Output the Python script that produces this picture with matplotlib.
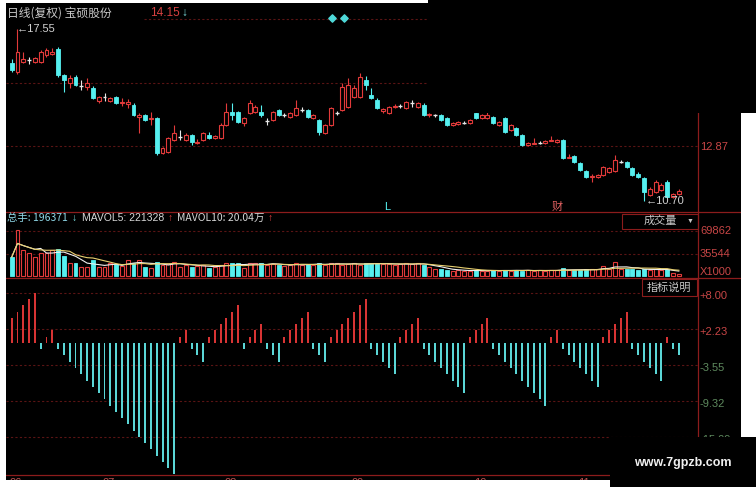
import numpy as np
import pandas as pd
import matplotlib
matplotlib.use("Agg")
import matplotlib.pyplot as plt
from matplotlib.patches import Rectangle
from matplotlib.lines import Line2D

plt.rcParams['font.family'] = ['Noto Sans CJK SC', 'DejaVu Sans']

# ---------------------------------------------------------------------------
# data (daily bars, Jun - Nov)
# ---------------------------------------------------------------------------
opens = [16.20, 15.83, 16.22, 16.30, 16.24, 16.24, 16.51, 16.55, 16.75, 15.70,
         15.40, 15.64, 15.28, 15.24, 15.20, 14.68, 14.84, 14.70, 14.84, 14.62,
         14.58, 14.52, 14.04, 14.12, 13.98, 14.00, 12.61, 12.65, 13.13, 13.25,
         13.13, 13.33, 13.01, 13.13, 13.33, 13.21, 13.21, 13.73, 14.24, 14.24,
         13.81, 14.20, 14.24, 14.24, 13.90, 13.92, 14.32, 14.12, 14.04, 14.12,
         14.32, 14.32, 14.00, 13.92, 13.41, 13.73, 14.20, 14.32, 14.44, 14.84,
         14.84, 15.52, 14.92, 14.72, 14.28, 14.20, 14.44, 14.48, 14.40, 14.60,
         14.44, 14.52, 14.12, 14.12, 14.12, 14.00, 13.73, 13.76, 13.81, 13.81,
         14.20, 14.00, 14.02, 14.04, 13.73, 14.00, 13.53, 13.61, 13.33, 12.93,
         12.98, 13.01, 13.01, 13.10, 13.05, 13.13, 12.43, 12.49, 12.21, 11.89,
         11.66, 11.66, 11.73, 11.87, 11.89, 12.27, 12.25, 12.01, 11.78, 11.61,
         10.94, 11.06, 11.14, 11.45, 10.86, 10.98]
highs = [16.35, 17.55, 16.62, 16.45, 16.45, 16.70, 16.78, 16.80, 16.85, 15.75,
         15.72, 15.70, 15.52, 15.60, 15.28, 14.88, 15.00, 14.84, 14.88, 14.80,
         14.76, 14.60, 14.20, 14.16, 14.24, 14.04, 12.85, 13.25, 13.73, 13.53,
         13.40, 13.38, 13.15, 13.45, 13.45, 13.33, 13.80, 14.60, 14.60, 14.30,
         14.05, 14.72, 14.52, 14.52, 14.00, 14.30, 14.36, 14.20, 14.24, 14.72,
         14.44, 14.36, 14.16, 13.96, 13.76, 14.44, 14.30, 15.40, 15.60, 15.32,
         15.80, 15.68, 15.20, 14.80, 14.42, 14.48, 14.56, 14.56, 14.70, 14.72,
         14.64, 14.60, 14.20, 14.18, 14.16, 14.04, 13.85, 13.90, 13.88, 13.96,
         14.24, 14.16, 14.24, 14.08, 13.88, 14.04, 13.76, 13.65, 13.36, 13.05,
         13.21, 13.08, 13.12, 13.29, 13.18, 13.16, 12.55, 12.53, 12.25, 11.93,
         11.78, 11.78, 12.10, 12.06, 12.53, 12.33, 12.29, 12.05, 11.85, 11.66,
         11.25, 11.53, 11.40, 11.53, 11.02, 11.18]
lows = [15.84, 15.75, 16.18, 16.15, 16.20, 16.20, 16.45, 16.50, 15.65, 15.04,
        15.20, 15.28, 15.12, 15.12, 14.76, 14.62, 14.68, 14.64, 14.56, 14.50,
        14.40, 14.08, 13.41, 13.90, 13.73, 12.53, 12.55, 12.61, 13.10, 13.13,
        13.10, 12.93, 12.95, 13.10, 13.18, 13.18, 13.18, 13.70, 13.92, 13.80,
        13.70, 14.15, 14.20, 14.04, 13.73, 13.88, 14.08, 14.04, 14.00, 14.08,
        14.24, 14.00, 13.96, 13.33, 13.38, 13.70, 14.12, 14.28, 14.40, 14.80,
        14.80, 15.12, 14.76, 14.36, 14.20, 14.16, 14.40, 14.40, 14.36, 14.44,
        14.40, 14.08, 14.04, 14.06, 13.88, 13.70, 13.70, 13.72, 13.76, 13.78,
        13.96, 13.96, 13.98, 13.78, 13.70, 13.41, 13.50, 13.30, 12.90, 12.90,
        12.95, 12.96, 12.98, 13.08, 13.02, 12.37, 12.40, 12.21, 11.89, 11.62,
        11.45, 11.62, 11.70, 11.82, 11.85, 12.20, 12.01, 11.70, 11.62, 10.70,
        10.90, 11.02, 11.10, 10.82, 10.82, 10.94]
closes = [15.92, 16.65, 16.35, 16.30, 16.38, 16.65, 16.71, 16.62, 15.72, 15.52,
          15.60, 15.32, 15.28, 15.40, 14.80, 14.84, 14.84, 14.80, 14.60, 14.66,
          14.64, 14.12, 14.12, 13.94, 14.02, 12.61, 12.81, 13.21, 13.41, 13.25,
          13.33, 13.05, 13.05, 13.41, 13.21, 13.28, 13.73, 14.24, 14.12, 13.85,
          14.00, 14.60, 14.44, 14.12, 13.90, 14.24, 14.12, 14.12, 14.20, 14.40,
          14.32, 14.04, 14.12, 13.45, 13.73, 14.40, 14.20, 15.24, 15.32, 15.20,
          15.64, 15.32, 14.80, 14.40, 14.36, 14.44, 14.50, 14.48, 14.64, 14.60,
          14.60, 14.12, 14.16, 14.12, 13.92, 13.73, 13.81, 13.85, 13.81, 13.92,
          14.00, 14.12, 14.12, 13.81, 13.85, 13.45, 13.73, 13.33, 12.93, 13.01,
          13.02, 13.01, 13.08, 13.13, 13.13, 12.41, 12.47, 12.25, 11.93, 11.66,
          11.68, 11.73, 12.05, 12.01, 12.33, 12.27, 12.05, 11.73, 11.66, 11.06,
          11.18, 11.45, 11.33, 10.86, 10.98, 11.10]
volumes = [30000, 72500, 41300, 36200, 30900, 36700, 36700, 41300, 42400, 32000,
           20600, 20600, 15300, 15300, 25700, 15300, 14400, 20600, 19500, 16400,
           25700, 21500, 25700, 15300, 13700, 23100, 17900, 19500, 23100, 15300,
           17900, 14400, 16400, 17900, 12800, 14400, 17900, 20600, 20600, 20600,
           12800, 20600, 20600, 20600, 17900, 19500, 17900, 16400, 17900, 20600,
           17900, 19500, 17900, 20600, 17900, 20600, 20600, 17900, 19500, 20600,
           17900, 20600, 20600, 20600, 19500, 18700, 17900, 19500, 20600, 18700,
           20600, 18000, 14000, 12000, 11000, 10500, 9000, 9500, 8500, 9000,
           10000, 9000, 8500, 9500, 9000, 10500, 9000, 9500, 9000, 10000,
           8500, 9500, 9000, 9500, 10000, 13000, 9500, 10000, 10000, 11000,
           12000, 11000, 17000, 12000, 22000, 12000, 11500, 11000, 10500, 12000,
           10000, 11000, 10000, 11500, 5000, 4500]
# custom indicator histogram (up/down day counter)
counter = [4, 5, 6, 7, 8, -1, 1, 2,
           -1, -2, -3, -4, -5, -6, -7, -8, -9, -10, -11, -12, -13, -14, -15,
           -16, -17, -18, -19, -20, -21,
           1, 2, -1, -2, -3, 1, 2, 3, 4, 5, 6, -1, 1, 2, 3, -1, -2, -3,
           1, 2, 3, 4, 5, -1, -2, -3, 1, 2, 3, 4, 5, 6, 7,
           -1, -2, -3, -4, -5, 1, 2, 3, 4, -1, -2, -3, -4, -5, -6, -7, -8,
           1, 2, 3, 4, -1, -2, -3, -4, -5, -6, -7, -8, -9, -10, 1, 2,
           -1, -2, -3, -4, -5, -6, -7, 1, 2, 3, 4, 5,
           -1, -2, -3, -4, -5, -6, 1, -1, -2]
month_labels = ['06', '07', '08', '09', '10', '11']
month_start = [0, 16, 37, 59, 80, 98]
price_ticks = [12.87]
vol_ticks = [69862, 35544]
ind_ticks = [8.00, 2.23, -3.55, -9.32, -15.09]

assert len(opens) == len(highs) == len(lows) == len(closes) == len(volumes) == len(counter) == 116

# ---------------------------------------------------------------------------
RED = '#e23a3a'
CYAN = '#56f0f0'
FRAME = '#8c1c1c'
GRID = '#5a1414'
LABEL = '#c84646'
GREENLBL = '#5e8a5e'
W, H = 756, 487

fig = plt.figure(figsize=(W / 100, H / 100), dpi=100, facecolor='black')


def fx(x):
    return x / W


def fy(y):
    return 1 - y / H


def make_panel(top, bottom):
    ax = fig.add_axes([fx(6), fy(bottom), (698 - 6) / W, (bottom - top) / H])
    ax.set_facecolor('black')
    ax.set_axis_off()
    ax.set_xlim(-0.98, 118.3)
    return ax


n = len(closes)
x = np.arange(n)
o = np.array(opens); h = np.array(highs); l = np.array(lows); c = np.array(closes)
bw = 0.68

# --- price panel ---
axp = make_panel(3, 212)
axp.set_ylim(10.259, 18.586)
for gv, xm in [(17.93, 0.2), (15.40, 0.0), (12.87, 0.0)]:
    axp.axhline(gv, xmin=xm, color=GRID, lw=0.8, ls=(0, (2, 2)))
for i in range(n):
    if c[i] > o[i]:
        axp.add_patch(Rectangle((i - bw / 2, o[i]), bw, c[i] - o[i], fc='black', ec=RED, lw=0.8, zorder=3))
        axp.vlines(i, c[i], h[i], color=RED, lw=0.8, zorder=3)
        axp.vlines(i, l[i], o[i], color=RED, lw=0.8, zorder=3)
    elif c[i] < o[i]:
        axp.add_patch(Rectangle((i - bw / 2, c[i]), bw, o[i] - c[i], fc=CYAN, ec=CYAN, lw=0.6, zorder=3))
        axp.vlines(i, l[i], h[i], color=CYAN, lw=0.8, zorder=3)
    else:
        axp.hlines(o[i], i - bw / 2, i + bw / 2, color='#e8e8e8', lw=1.0, zorder=3)
        axp.vlines(i, l[i], h[i], color='#e8e8e8', lw=0.8, zorder=3)

num_font = ['Liberation Sans', 'DejaVu Sans']
hi_i = int(np.argmax(h)); lo_i = int(np.argmin(l))
axp.text(hi_i - 0.1, h[hi_i], '←17.55', color='#d0d0d0', fontsize=8, va='center', ha='left', family=num_font)
axp.text(lo_i + 0.3, l[lo_i], '←10.70', color='#d0d0d0', fontsize=8, va='center', ha='left', family=num_font)
axp.scatter([55.2, 57.3], [18.0, 18.0], marker='D', s=14, color='#4fd8d8', zorder=4)
axp.text(64.7, 10.45, 'L', color=CYAN, fontsize=8, ha='center', va='center', family=num_font)
axp.text(94, 10.45, '财', color='#e06060', fontsize=8, ha='center', va='center')

fig.text(fx(7), fy(13), '日线(复权) 宝硕股份', color='#c8c8c8', fontsize=8.5, va='center')
fig.text(fx(150), fy(13), '14.15', color='#d84040', fontsize=8.5, va='center', family=num_font)
fig.text(fx(181), fy(13), '↓', color='#7adede', fontsize=8.5, va='center', family=num_font)

# --- volume panel ---
axv = make_panel(212, 278)
axv.set_ylim(-2340, 100000)
for gv in vol_ticks:
    axv.axhline(gv, color=GRID, lw=0.8, ls=(0, (2, 2)))
for i in range(n):
    if c[i] >= o[i]:
        axv.add_patch(Rectangle((i - bw / 2, 0), bw, volumes[i], fc='black', ec=RED, lw=0.8, zorder=3))
    else:
        axv.add_patch(Rectangle((i - bw / 2, 0), bw, volumes[i], fc=CYAN, ec=CYAN, lw=0.6, zorder=3))
vs = pd.Series(volumes, dtype=float)
axv.plot(x, vs.rolling(5, min_periods=1).mean(), color='#f0f0f0', lw=0.8, zorder=4)
axv.plot(x, vs.rolling(10, min_periods=1).mean(), color='#e8d070', lw=0.8, zorder=4)

hdr = 7.5
fig.text(fx(7), fy(218), '总手: 196371', color='#8fd8e8', fontsize=hdr, va='center')
fig.text(fx(72), fy(218), '↓', color='#7adede', fontsize=hdr, va='center', family=num_font)
fig.text(fx(82), fy(218), 'MAVOL5: 221328', color='#d8d8d8', fontsize=hdr, va='center', family=num_font)
fig.text(fx(168), fy(218), '↑', color='#e04040', fontsize=hdr, va='center', family=num_font)
fig.text(fx(177), fy(218), 'MAVOL10: 20.04万', color='#d8d8d8', fontsize=hdr, va='center')
fig.text(fx(268), fy(218), '↑', color='#e04040', fontsize=hdr, va='center', family=num_font)

# --- indicator panel ---
axi = make_panel(278, 475)
axi.set_ylim(-21.09, 10.38)
for gv in ind_ticks:
    axi.axhline(gv, color=GRID, lw=0.8, ls=(0, (2, 2)))
cnt = np.array(counter)
axi.bar(x[cnt > 0], cnt[cnt > 0], width=0.34, color='#d83434', lw=0, antialiased=False, zorder=3)
axi.bar(x[cnt < 0], cnt[cnt < 0], width=0.34, color='#5ad6d6', lw=0, antialiased=False, zorder=3)
for lab, idx in zip(month_labels, month_start):
    fig.text(fx(11.7 + 5.8 * idx - 2), fy(482.5), lab, color='#c05050', fontsize=8, va='center', ha='left', family=num_font)

# right-hand scale labels
fig.text(fx(700), fy(147), '12.87', color=LABEL, fontsize=8, va='center', family=num_font)
fig.text(fx(700), fy(231), '69862', color=LABEL, fontsize=8, va='center', family=num_font)
fig.text(fx(700), fy(254), '35544', color=LABEL, fontsize=8, va='center', family=num_font)
fig.text(fx(700), fy(272), 'X1000', color=LABEL, fontsize=8, va='center', family=num_font)
for val, yy in zip(ind_ticks, [296, 332, 368, 404, 440]):
    col = LABEL if val > 0 else GREENLBL
    fig.text(fx(699), fy(yy), f'{val:+.2f}', color=col, fontsize=8, va='center', family=num_font)

# frame lines
for yy in [212, 278, 475]:
    fig.add_artist(Line2D([fx(6), fx(741)], [fy(yy), fy(yy)], color=FRAME, lw=0.9))
fig.add_artist(Line2D([fx(698), fx(698)], [fy(3), fy(475)], color=FRAME, lw=0.9))

# boxes
fig.add_artist(Rectangle((fx(622), fy(229)), (698 - 622) / W, 15 / H, fill=False, ec=FRAME, lw=0.8))
fig.text(fx(660), fy(221), '成交量', color='#c8c8c8', fontsize=8, ha='center', va='center')
fig.text(fx(690), fy(221), '▼', color='#c8c8c8', fontsize=5, ha='center', va='center', family=num_font)
fig.add_artist(Rectangle((fx(642), fy(296)), (697 - 642) / W, 17 / H, fc='black', ec=FRAME, lw=0.8, zorder=5))
fig.text(fx(669), fy(287.5), '指标说明', color='#c8c8c8', fontsize=8, ha='center', va='center', zorder=6)

# screenshot cropping artefacts
fig.add_artist(Rectangle((fx(428), fy(113)), (W - 428) / W, 113 / H, fc='black', ec='none', zorder=10))
fig.add_artist(Rectangle((0, fy(3)), fx(428), 3 / H, fc='white', ec='none', zorder=10))
fig.add_artist(Rectangle((0, 0), fx(6), 1, fc='white', ec='none', zorder=10))
fig.add_artist(Rectangle((fx(741), fy(437)), (W - 741) / W, (437 - 113) / H, fc='white', ec='none', zorder=10))
fig.add_artist(Rectangle((0, 0), fx(610), 7 / H, fc='white', ec='none', zorder=10))
fig.add_artist(Rectangle((fx(610), 0), (W - 610) / W, 50 / H, fc='black', ec='none', zorder=10))
fig.text(fx(683), fy(463), 'www.7gpzb.com', color='#f0f0f0', fontsize=9, fontweight='bold',
         ha='center', va='center', family=num_font, zorder=11)

fig.savefig('out.png', dpi=100, facecolor='black')
